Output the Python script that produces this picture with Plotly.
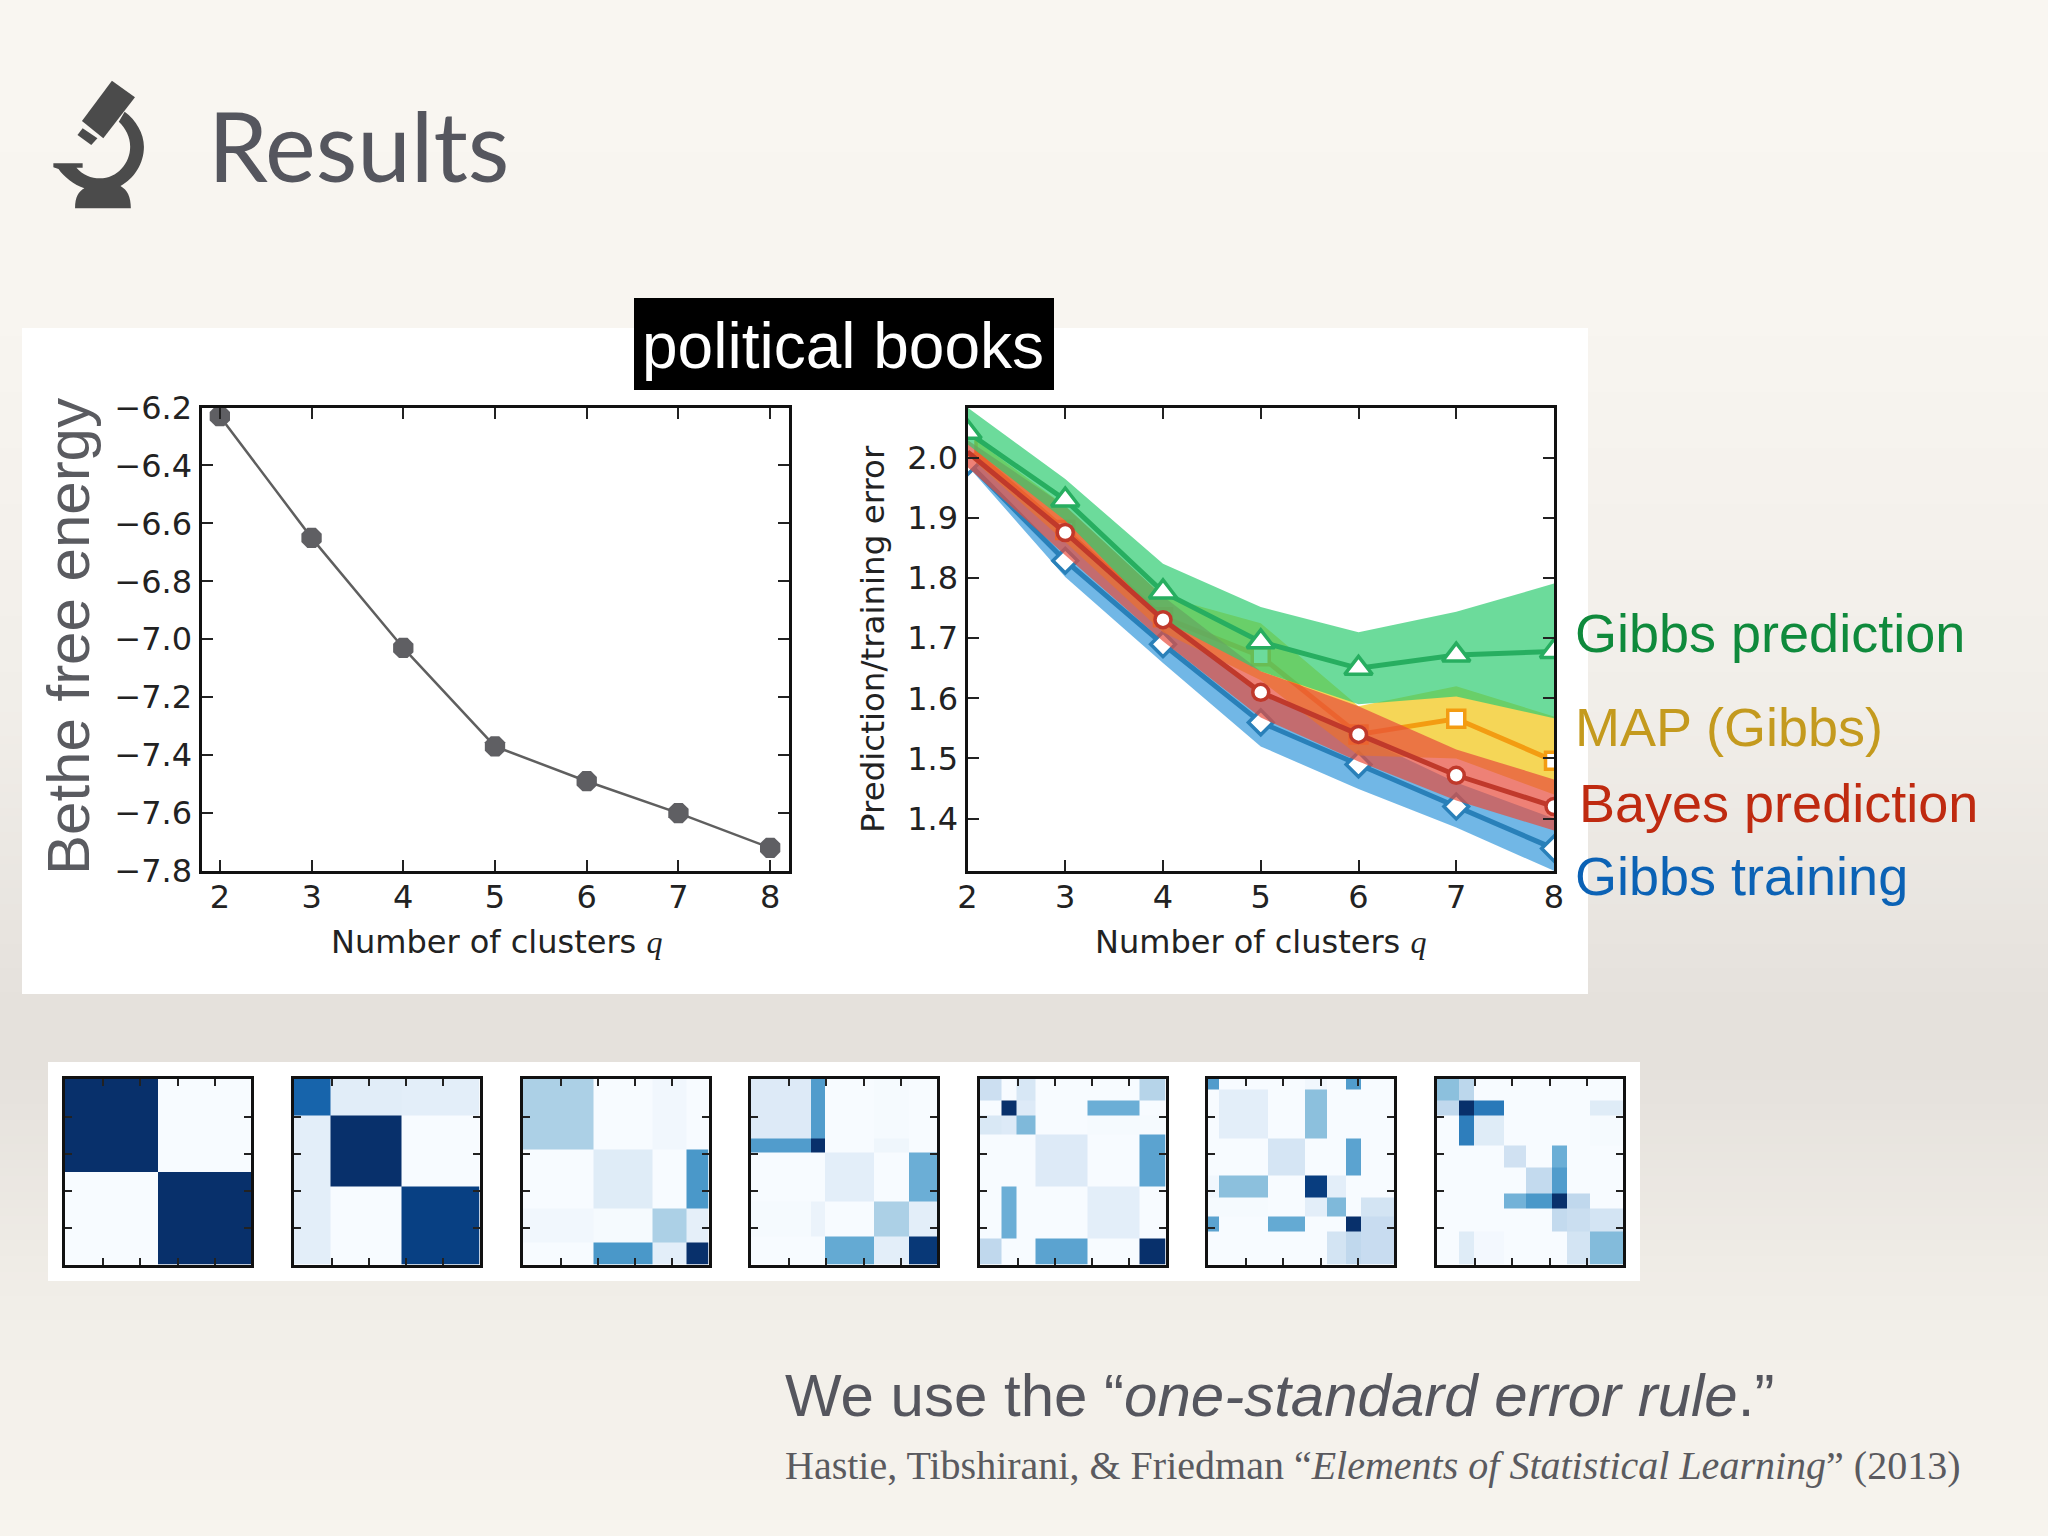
import plotly.graph_objects as go
import numpy as np

# ---------- data ----------
clusters = [2, 3, 4, 5, 6, 7, 8]
bethe = [-6.23, -6.65, -7.03, -7.37, -7.49, -7.60, -7.72]

gibbs_pred = [2.043, 1.930, 1.777, 1.694, 1.650, 1.672, 1.678]
gibbs_pred_hi = [2.084, 1.965, 1.824, 1.752, 1.710, 1.744, 1.791]
gibbs_pred_lo = [2.023, 1.896, 1.730, 1.645, 1.590, 1.603, 1.567]

map_gibbs = [2.020, 1.880, 1.735, 1.670, 1.540, 1.566, 1.496]
map_gibbs_hi = [2.040, 1.920, 1.770, 1.725, 1.587, 1.620, 1.570]
map_gibbs_lo = [2.005, 1.860, 1.710, 1.630, 1.505, 1.500, 1.440]

bayes_pred = [2.010, 1.876, 1.731, 1.610, 1.540, 1.472, 1.420]
bayes_pred_hi = [2.030, 1.920, 1.770, 1.645, 1.587, 1.515, 1.465]
bayes_pred_lo = [1.985, 1.838, 1.695, 1.568, 1.495, 1.430, 1.380]

gibbs_train = [1.993, 1.829, 1.690, 1.560, 1.490, 1.420, 1.350]
gibbs_train_hi = [2.010, 1.875, 1.740, 1.609, 1.537, 1.460, 1.400]
gibbs_train_lo = [1.987, 1.802, 1.659, 1.520, 1.449, 1.385, 1.313]

blues = ['#f7fbff', '#deebf7', '#c6dbef', '#9ecae1', '#6baed6',
         '#4292c6', '#2171b5', '#08519c', '#08306b']

edges_q2 = [0, 50, 100]
matrix_q2 = [[1, 0],
             [0, 1]]
edges_q3 = [0, 20, 58, 100]
matrix_q3 = [[.80, .11, .10],
             [.10, 1, 0],
             [.10, 0, .94]]
edges_q4 = [0, 38, 70, 88, 100]
matrix_q4 = [[.33, 0, .03, 0],
             [0, .12, 0, .60],
             [.03, .01, .33, .09],
             [0, .60, .10, 1]]
edges_q5 = [0, 32, 40, 66, 85, 100]
matrix_q5 = [[.13, .58, 0, .01, 0],
             [.58, 1, 0, .04, 0],
             [0, 0, .10, 0, .50],
             [.01, .06, 0, .33, .10],
             [0, 0, .52, .10, .97]]
edges_q6 = [0, 12, 20, 30, 58, 86, 100]
matrix_q6 = [[.22, 0, .16, 0, 0, .30],
             [0, 1, .13, 0, .50, 0],
             [.15, .13, .45, 0, .01, .01],
             [0, 0, 0, .13, 0, .55],
             [0, .50, 0, 0, .10, 0],
             [.27, 0, 0, .55, 0, 1]]
edges_q7 = [0, 6, 32, 52, 64, 74, 82, 100]
matrix_q7 = [[.58, 0, 0, .03, 0, .58, 0],
             [0, .10, 0, .42, 0, 0, 0],
             [0, 0, .17, 0, 0, .55, 0],
             [.03, .42, 0, .95, .10, 0, 0],
             [.01, .01, 0, .10, .45, 0, .18],
             [.55, 0, .52, 0, 0, 1, .24],
             [0, 0, 0, 0, .18, .27, .24]]
edges_q8 = [0, 12, 20, 36, 48, 62, 70, 82, 100]
matrix_q8 = [[.42, .28, 0, 0, 0, 0, 0, 0],
             [.27, 1, .72, 0, 0, 0, 0, .12],
             [0, .70, .12, 0, 0, 0, 0, .01],
             [0, 0, 0, .20, 0, .50, 0, 0],
             [0, 0, 0, 0, .26, .58, 0, 0],
             [0, 0, 0, .48, .60, 1, .27, 0],
             [0, 0, 0, 0, 0, .26, .23, .18],
             [0, .12, .02, 0, 0, 0, .18, .44]]

all_edges = [edges_q2, edges_q3, edges_q4, edges_q5, edges_q6, edges_q7, edges_q8]
all_matrices = [matrix_q2, matrix_q3, matrix_q4, matrix_q5, matrix_q6, matrix_q7, matrix_q8]

bg_stops_y = [0, 300, 700, 1000, 1070, 1300, 1536]
bg_stops_rgb = [(249, 246, 241), (248, 245, 240), (241, 238, 233), (229, 225, 220),
                (229, 225, 220), (241, 238, 232), (247, 244, 238)]

# ---------- page helpers ----------
W, H = 2048, 1536
def fx(px): return px / W
def fy(py): return 1 - py / H

SANS = 'Liberation Sans'
DEJAVU = 'DejaVu Sans'
SERIF = 'Liberation Serif'

fig = go.Figure()
shapes = []
annotations = []

# background bands
ys = np.arange(0, H + 8, 8)
for y0, y1 in zip(ys[:-1], ys[1:]):
    c = [int(round(np.interp(y0, bg_stops_y, [s[i] for s in bg_stops_rgb]))) for i in range(3)]
    shapes.append(dict(type='rect', xref='paper', yref='paper', layer='below', line_width=0,
                       x0=0, x1=1, y0=fy(y0), y1=fy(y1 + 1), fillcolor=f'rgb({c[0]},{c[1]},{c[2]})'))

def page_rect(x0, y0, x1, y1, color, layer='below'):
    shapes.append(dict(type='rect', xref='paper', yref='paper', layer=layer, line_width=0,
                       x0=fx(x0), x1=fx(x1), y0=fy(y0), y1=fy(y1), fillcolor=color))

page_rect(22, 328, 1588, 994, '#ffffff')
page_rect(48, 1062, 1640, 1281, '#ffffff')
page_rect(634, 298, 1054, 390, '#000000', layer='above')

# microscope icon
def icon(points):
    out = []
    for cmd, pts in points:
        out.append(cmd + ' '.join(f'{fx(px / 2.904):.5f},{fy(50 + py / 3):.5f}' for px, py in pts))
    return ' '.join(out) + ' Z'

for outline in [
    [('M', [(325, 92)]), ('L', [(392, 142)]), ('L', [(300, 265)]), ('L', [(238, 213)])],
    [('M', [(240, 235)]), ('L', [(283, 265)]), ('L', [(265, 285)]), ('L', [(225, 255)])],
    [('M', [(155, 340)]), ('L', [(240, 340)]), ('L', [(240, 353)]), ('L', [(222, 353)]),
     ('C', [(240, 375), (265, 385), (290, 385)]), ('C', [(340, 385), (378, 340), (378, 290)]),
     ('C', [(378, 260), (365, 235), (345, 215)]), ('L', [(362, 185)]),
     ('C', [(395, 210), (418, 250), (418, 290)]), ('C', [(418, 340), (390, 385), (350, 408)]),
     ('C', [(370, 420), (380, 440), (380, 475)]), ('L', [(218, 475)]),
     ('C', [(218, 440), (228, 425), (245, 415)]), ('C', [(215, 405), (185, 380), (170, 357)]),
     ('L', [(155, 352)])],
]:
    shapes.append(dict(type='path', xref='paper', yref='paper', layer='below', path=icon(outline),
                       fillcolor='#4b4b4b', line_width=0))

def text(x, y, s, size, color, family=SANS, xanchor='left', angle=0):
    annotations.append(dict(xref='paper', yref='paper', x=fx(x), y=fy(y), text=s, showarrow=False,
                            xanchor=xanchor, yanchor='middle', textangle=angle,
                            font=dict(size=size, color=color, family=family)))

GRAY = '#55565e'
text(206, 144, 'Results', 96, GRAY, 'Lato')
text(843, 346, 'political books', 64, '#ffffff', xanchor='center')
text(68, 637, 'Bethe free energy', 60, '#5a5b60', xanchor='center', angle=-90)
text(873, 639, 'Prediction/training error', 32.5, '#222222', DEJAVU, xanchor='center', angle=-90)
QLABEL = 'Number of clusters <i><span style="font-family:Liberation Serif">q</span></i>'
text(496, 942, QLABEL, 32, '#222222', DEJAVU, xanchor='center')
text(1260, 942, QLABEL, 32, '#222222', DEJAVU, xanchor='center')
text(1572.5, 633, 'Gibbs prediction', 54, '#0f8a3c')
text(1572.5, 727, 'MAP (Gibbs)', 54, '#c49a1e')
text(1576.5, 803, 'Bayes prediction', 54, '#bf2a10')
text(1572.5, 876, 'Gibbs training', 54, '#0b62b5')
text(782.5, 1395, 'We use the “<i>one-standard error rule</i>.”', 60, GRAY)
text(782.5, 1465, 'Hastie, Tibshirani, &amp; Friedman “<i>Elements of Statistical Learning</i>” (2013)', 40, '#5a5a5f', SERIF)

# ---------- axes ----------
def dom_x(a, b): return [fx(a), fx(b)]
def dom_y(a, b): return [fy(b), fy(a)]

FRAME = dict(showline=True, linecolor='#111111', mirror='allticks', ticks='inside',
             tickcolor='#222222', showgrid=False, zeroline=False)
TICKFONT = dict(family=DEJAVU, size=32, color='#222222')
LINE_TICK = dict(linewidth=3, ticklen=11, tickwidth=1.5, tickfont=TICKFONT)

# left panel
fig.add_trace(go.Scatter(x=clusters, y=bethe, mode='lines+markers', xaxis='x', yaxis='y',
                         line=dict(color='#5f5f5f', width=2.5), cliponaxis=False,
                         marker=dict(symbol='octagon', size=22, color='#5f5f63', line_width=0),
                         hoverinfo='skip'))
layout_axes = dict(
    xaxis=dict(domain=dom_x(201.5, 788.5), range=[1.8, 8.2], tickvals=clusters, anchor='y',
               ticklabelstandoff=-4, **LINE_TICK, **FRAME),
    yaxis=dict(domain=dom_y(407.5, 871), range=[-7.8, -6.2],
               tickvals=[-6.2, -6.4, -6.6, -6.8, -7.0, -7.2, -7.4, -7.6, -7.8],
               tickformat='.1f', anchor='x', **LINE_TICK, **FRAME),
    xaxis2=dict(domain=dom_x(967.5, 1554), range=[2, 8], tickvals=clusters, anchor='y2',
                ticklabelstandoff=-4, **LINE_TICK, **FRAME),
    yaxis2=dict(domain=dom_y(407.5, 871), range=[1.3127, 2.084], tickvals=[1.4, 1.5, 1.6, 1.7, 1.8, 1.9, 2.0],
                tickformat='.1f', anchor='x2', **LINE_TICK, **FRAME),
)

# right panel: bands stack blue, orange, red, green; lines follow
series = [
    (gibbs_train, gibbs_train_hi, gibbs_train_lo, '#2980b9', 'rgba(52,152,219,0.7)', 'diamond', 19),
    (map_gibbs, map_gibbs_hi, map_gibbs_lo, '#f39c12', 'rgba(241,196,15,0.7)', 'square', 17),
    (bayes_pred, bayes_pred_hi, bayes_pred_lo, '#c0392b', 'rgba(231,76,60,0.7)', 'circle', [0, 16, 16, 16, 16, 16, 16]),
    (gibbs_pred, gibbs_pred_hi, gibbs_pred_lo, '#27ae60', 'rgba(46,204,113,0.7)', 'triangle-up', 24),
]
for mean, hi, lo, line, fill, sym, size in series:
    fig.add_trace(go.Scatter(x=clusters + clusters[::-1], y=hi + lo[::-1], mode='lines', fill='toself',
                             fillcolor=fill, line_width=0, xaxis='x2', yaxis='y2', hoverinfo='skip'))
    if sym in ('diamond', 'square'):
        fig.add_trace(go.Scatter(x=clusters, y=mean, mode='lines+markers', xaxis='x2', yaxis='y2',
                                 line=dict(color=line, width=5), hoverinfo='skip',
                                 marker=dict(symbol=sym, size=size, color='#ffffff', opacity=1,
                                             line=dict(color=line, width=3.5))))
for mean, hi, lo, line, fill, sym, size in series[2:]:
    fig.add_trace(go.Scatter(x=clusters, y=mean, mode='lines+markers', xaxis='x2', yaxis='y2',
                             line=dict(color=line, width=5), hoverinfo='skip',
                             marker=dict(symbol=sym, size=size, color='#ffffff', opacity=1,
                                         line=dict(color=line, width=3.5))))

# matrix panels
panel_left = [65, 293.5, 522.5, 751, 979.5, 1208, 1437]
PANEL_W = 186
for i, (edges, m) in enumerate(zip(all_edges, all_matrices)):
    k = i + 3
    e = [c - 0.5 for c in edges]
    fig.add_trace(go.Heatmap(x=e, y=e, z=m, zmin=0, zmax=1, showscale=False, hoverinfo='skip',
                             colorscale=[[j / 8, c] for j, c in enumerate(blues)],
                             xaxis=f'x{k}', yaxis=f'y{k}'))
    common = dict(tickvals=[0, 20, 40, 60, 80], showticklabels=False, linewidth=3, ticklen=7, tickwidth=1.5, **FRAME)
    layout_axes[f'xaxis{k}'] = dict(domain=dom_x(panel_left[i], panel_left[i] + PANEL_W), range=[-0.5, 99.5],
                                    anchor=f'y{k}', **common)
    layout_axes[f'yaxis{k}'] = dict(domain=dom_y(1078.5, 1264.5), range=[99.5, -0.5], anchor=f'x{k}', **common)

fig.update_layout(width=W, height=H, margin=dict(l=0, r=0, t=0, b=0, autoexpand=False), showlegend=False,
                  paper_bgcolor='#f8f5f0', plot_bgcolor='rgba(0,0,0,0)', shapes=shapes,
                  annotations=annotations, **layout_axes)
fig.write_html('out.html', config=dict(displayModeBar=False),
               post_script="document.body.style.margin='0';document.body.style.overflow='hidden';")
